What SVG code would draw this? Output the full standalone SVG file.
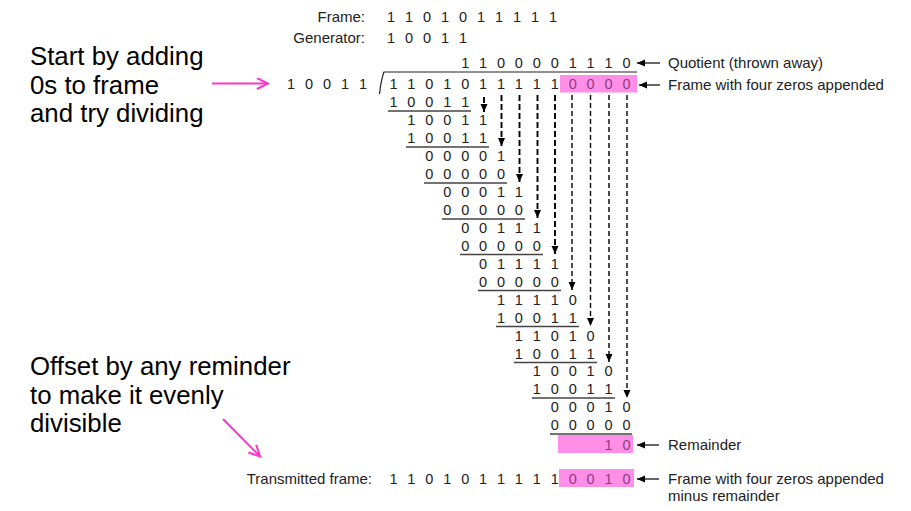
<svg xmlns="http://www.w3.org/2000/svg" width="911" height="511" viewBox="0 0 911 511">
<style>
text{font-family:"Liberation Sans",Arial,sans-serif;}
.d{font-size:14.5px;fill:#222;text-anchor:middle;}
.p{font-size:14.5px;fill:#8e3a88;text-anchor:middle;}
.lbl{font-size:15px;fill:#222;}
.big{font-size:25.8px;fill:#000;}
.ul{stroke:#444;stroke-width:1.4;}
.dash1{stroke:#000;stroke-width:1.9;stroke-dasharray:6 3;fill:none;marker-end:url(#ah)}
.dash2{stroke:#000;stroke-width:1.4;stroke-dasharray:5 3;fill:none;marker-end:url(#ah)}
.arr{stroke:#000;stroke-width:1.2;fill:none;marker-end:url(#ah)}
.pk{stroke:#ff33cc;stroke-width:2;fill:none;marker-end:url(#pah)}
.box{fill:#ff8fe6;}
</style>
<defs>
<marker id="ah" markerUnits="userSpaceOnUse" markerWidth="9" markerHeight="8" refX="8" refY="3.5" orient="auto">
<path d="M0,0 L8,3.5 L0,7 z" fill="#000"/>
</marker>
<marker id="pah" markerUnits="userSpaceOnUse" markerWidth="14" markerHeight="14" refX="12" refY="6" orient="auto">
<path d="M1,0.5 L12,6 L1,11.5" fill="none" stroke="#ff33cc" stroke-width="2"/>
</marker>
</defs>

<g id="left-notes">
<text class="big" x="30" y="65">Start by adding</text>
<text class="big" x="30" y="93.5">0s to frame</text>
<text class="big" x="30" y="122">and try dividing</text>
<text class="big" x="30" y="375">Offset by any reminder</text>
<text class="big" x="30" y="403.5">to make it evenly</text>
<text class="big" x="30" y="432">divisible</text>
</g>

<g id="header">
<text class="lbl" x="365" y="21.5" text-anchor="end">Frame:</text>
<g class="d">
<text x="391" y="21.5">1</text><text x="409" y="21.5">1</text><text x="427" y="21.5">0</text><text x="445" y="21.5">1</text><text x="463" y="21.5">0</text><text x="481" y="21.5">1</text><text x="499" y="21.5">1</text><text x="517" y="21.5">1</text><text x="535" y="21.5">1</text><text x="553" y="21.5">1</text>
</g>
<text class="lbl" x="365" y="43" text-anchor="end">Generator:</text>
<g class="d">
<text x="391" y="43">1</text><text x="409" y="43">0</text><text x="427" y="43">0</text><text x="445" y="43">1</text><text x="463" y="43">1</text>
</g>
</g>

<g id="quotient">
<g class="d">
<text x="465.2" y="68">1</text><text x="483.1" y="68">1</text><text x="501" y="68">0</text><text x="518.9" y="68">0</text><text x="536.9" y="68">0</text><text x="554.8" y="68">0</text><text x="572.7" y="68">1</text><text x="590.6" y="68">1</text><text x="608.5" y="68">1</text><text x="626.5" y="68">0</text>
</g>
<text class="lbl" x="668" y="68">Quotient (thrown away)</text>
</g>

<g id="divisor">
<g class="d">
<text x="291" y="89">1</text><text x="309" y="89">0</text><text x="327" y="89">0</text><text x="345" y="89">1</text><text x="363" y="89">1</text>
</g>
<path d="M379.5,94 Q381,80 384,72 L637,72" fill="none" stroke="#222" stroke-width="1.2"/>
</g>

<g id="dividend">
<rect class="box" x="560" y="75" width="77" height="17.5"/>
<g class="d">
<text x="393.5" y="89">1</text><text x="411.4" y="89">1</text><text x="429.3" y="89">0</text><text x="447.3" y="89">1</text><text x="465.2" y="89">0</text><text x="483.1" y="89">1</text><text x="501" y="89">1</text><text x="518.9" y="89">1</text><text x="536.9" y="89">1</text><text x="554.8" y="89">1</text>
</g>
<g class="p">
<text x="572.7" y="89">0</text><text x="590.6" y="89">0</text><text x="608.5" y="89">0</text><text x="626.5" y="89">0</text>
</g>
<text class="lbl" x="668" y="90">Frame with four zeros appended</text>
</g>

<g id="steps" class="d">
<text x="393.5" y="107">1</text><text x="411.4" y="107">0</text><text x="429.3" y="107">0</text><text x="447.3" y="107">1</text><text x="465.2" y="107">1</text>
<text x="411.4" y="125">1</text><text x="429.3" y="125">0</text><text x="447.3" y="125">0</text><text x="465.2" y="125">1</text><text x="483.1" y="125">1</text>
<text x="411.4" y="143">1</text><text x="429.3" y="143">0</text><text x="447.3" y="143">0</text><text x="465.2" y="143">1</text><text x="483.1" y="143">1</text>
<text x="429.3" y="161">0</text><text x="447.3" y="161">0</text><text x="465.2" y="161">0</text><text x="483.1" y="161">0</text><text x="501" y="161">1</text>
<text x="429.3" y="179">0</text><text x="447.3" y="179">0</text><text x="465.2" y="179">0</text><text x="483.1" y="179">0</text><text x="501" y="179">0</text>
<text x="447.3" y="197">0</text><text x="465.2" y="197">0</text><text x="483.1" y="197">0</text><text x="501" y="197">1</text><text x="518.9" y="197">1</text>
<text x="447.3" y="215">0</text><text x="465.2" y="215">0</text><text x="483.1" y="215">0</text><text x="501" y="215">0</text><text x="518.9" y="215">0</text>
<text x="465.2" y="232.5">0</text><text x="483.1" y="232.5">0</text><text x="501" y="232.5">1</text><text x="518.9" y="232.5">1</text><text x="536.9" y="232.5">1</text>
<text x="465.2" y="250.5">0</text><text x="483.1" y="250.5">0</text><text x="501" y="250.5">0</text><text x="518.9" y="250.5">0</text><text x="536.9" y="250.5">0</text>
<text x="483.1" y="268.5">0</text><text x="501" y="268.5">1</text><text x="518.9" y="268.5">1</text><text x="536.9" y="268.5">1</text><text x="554.8" y="268.5">1</text>
<text x="483.1" y="286.5">0</text><text x="501" y="286.5">0</text><text x="518.9" y="286.5">0</text><text x="536.9" y="286.5">0</text><text x="554.8" y="286.5">0</text>
<text x="501" y="304.5">1</text><text x="518.9" y="304.5">1</text><text x="536.9" y="304.5">1</text><text x="554.8" y="304.5">1</text><text x="572.7" y="304.5">0</text>
<text x="501" y="322.5">1</text><text x="518.9" y="322.5">0</text><text x="536.9" y="322.5">0</text><text x="554.8" y="322.5">1</text><text x="572.7" y="322.5">1</text>
<text x="518.9" y="340.5">1</text><text x="536.9" y="340.5">1</text><text x="554.8" y="340.5">0</text><text x="572.7" y="340.5">1</text><text x="590.6" y="340.5">0</text>
<text x="518.9" y="358.5">1</text><text x="536.9" y="358.5">0</text><text x="554.8" y="358.5">0</text><text x="572.7" y="358.5">1</text><text x="590.6" y="358.5">1</text>
<text x="536.9" y="376">1</text><text x="554.8" y="376">0</text><text x="572.7" y="376">0</text><text x="590.6" y="376">1</text><text x="608.5" y="376">0</text>
<text x="536.9" y="394">1</text><text x="554.8" y="394">0</text><text x="572.7" y="394">0</text><text x="590.6" y="394">1</text><text x="608.5" y="394">1</text>
<text x="554.8" y="412">0</text><text x="572.7" y="412">0</text><text x="590.6" y="412">0</text><text x="608.5" y="412">1</text><text x="626.5" y="412">0</text>
<text x="554.8" y="430">0</text><text x="572.7" y="430">0</text><text x="590.6" y="430">0</text><text x="608.5" y="430">0</text><text x="626.5" y="430">0</text>
</g>

<g id="underlines" class="ul">
<line x1="388" y1="111" x2="471" y2="111"/>
<line x1="406" y1="147" x2="489" y2="147"/>
<line x1="424" y1="183" x2="507" y2="183"/>
<line x1="442" y1="219" x2="525" y2="219"/>
<line x1="460" y1="254.5" x2="543" y2="254.5"/>
<line x1="478" y1="290.5" x2="561" y2="290.5"/>
<line x1="496" y1="326.5" x2="579" y2="326.5"/>
<line x1="514" y1="362.5" x2="597" y2="362.5"/>
<line x1="532" y1="398" x2="615" y2="398"/>
<line x1="550" y1="434" x2="632" y2="434"/>
</g>

<g id="remainder">
<rect class="box" x="558" y="435" width="75" height="18"/>
<g class="p">
<text x="608.5" y="449.5">1</text><text x="626.5" y="449.5">0</text>
</g>
<text class="lbl" x="668" y="450">Remainder</text>
</g>

<g id="transmitted">
<text class="lbl" x="372" y="484" text-anchor="end">Transmitted frame:</text>
<rect class="box" x="559" y="469" width="75" height="18"/>
<g class="d">
<text x="393.5" y="483.5">1</text><text x="411.4" y="483.5">1</text><text x="429.3" y="483.5">0</text><text x="447.3" y="483.5">1</text><text x="465.2" y="483.5">0</text><text x="483.1" y="483.5">1</text><text x="501" y="483.5">1</text><text x="518.9" y="483.5">1</text><text x="536.9" y="483.5">1</text><text x="554.8" y="483.5">1</text>
</g>
<g class="p">
<text x="572.7" y="483.5">0</text><text x="590.6" y="483.5">0</text><text x="608.5" y="483.5">1</text><text x="626.5" y="483.5">0</text>
</g>
<text class="lbl" x="668" y="484">Frame with four zeros appended</text>
<text class="lbl" x="668" y="501">minus remainder</text>
</g>

<g id="connectors">
<line class="dash1" x1="484" y1="97" x2="484" y2="112"/>
<line class="dash1" x1="501.5" y1="95" x2="501.5" y2="146"/>
<line class="dash1" x1="519.5" y1="95" x2="519.5" y2="182"/>
<line class="dash1" x1="537.5" y1="95" x2="537.5" y2="218"/>
<line class="dash1" x1="555" y1="95" x2="555" y2="254"/>
<line class="dash2" x1="572" y1="95" x2="572" y2="290"/>
<line class="dash2" x1="590.5" y1="95" x2="590.5" y2="326"/>
<line class="dash2" x1="609" y1="95" x2="609" y2="362"/>
<line class="dash2" x1="627" y1="95" x2="627" y2="398"/>
<line class="arr" x1="660" y1="63" x2="637" y2="63"/>
<line class="arr" x1="660" y1="85" x2="639" y2="85"/>
<line class="arr" x1="659" y1="445" x2="637" y2="445"/>
<line class="arr" x1="659" y1="479" x2="637" y2="479"/>
<line class="pk" x1="212" y1="83.5" x2="268" y2="83.5"/>
<line class="pk" x1="223" y1="419" x2="260" y2="456.5"/>
</g>
</svg>
